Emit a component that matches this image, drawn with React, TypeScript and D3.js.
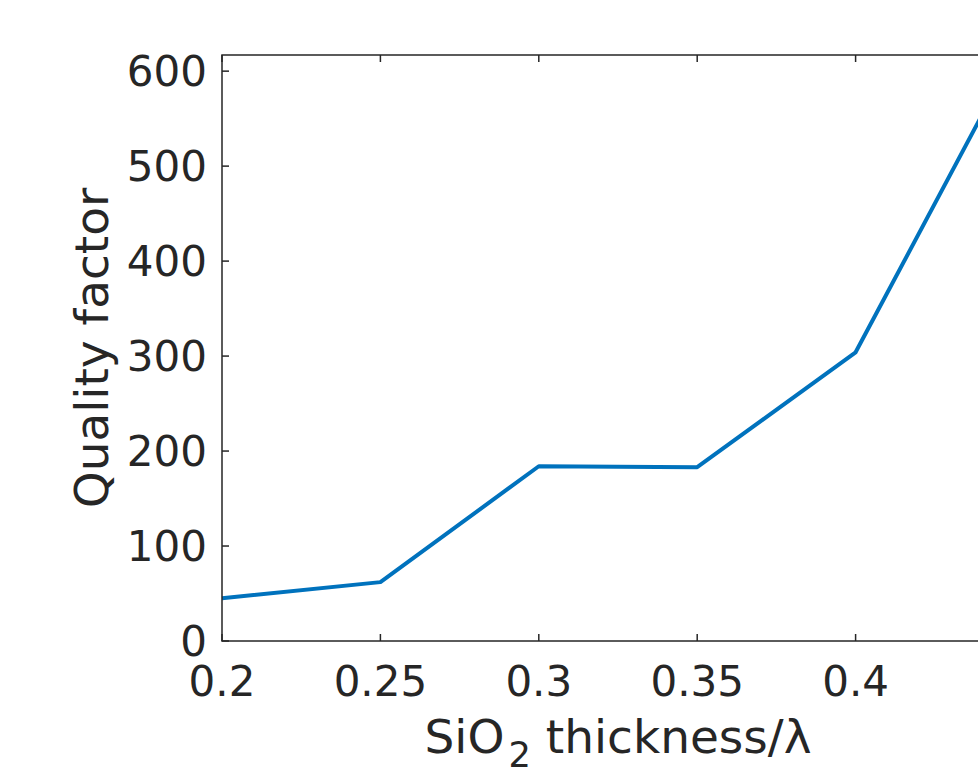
import React from "react";
import * as d3 from "d3";

const thickness = [0.2, 0.25, 0.3, 0.35, 0.4, 0.45];
const quality = [45, 62, 184, 183, 304, 617];
const xTicks = [0.2, 0.25, 0.3, 0.35, 0.4, 0.45];
const xTickLabels = ["0.2", "0.25", "0.3", "0.35", "0.4", ""];
const yTicks = [0, 100, 200, 300, 400, 500, 600];

export default function App() {
  const W = 978, H = 767;
  const left = 222, right = 1014, top = 55, bottom = 641;
  const x = d3.scaleLinear().domain([0.2, 0.45]).range([left, right]);
  const y = d3.scaleLinear().domain([0, 617]).range([bottom, top]);
  const line = d3.line<number>().x((_, i) => x(thickness[i])).y((d) => y(d));
  const ax = "#262626";
  const fs = 42;
  const lfs = 47;
  const font = "DejaVu Sans, sans-serif";
  return (
    <svg width={W} height={H} style={{ position: "absolute", left: 0, top: 0, background: "#fff" }}>
      <rect x={0} y={0} width={W} height={H} fill="#fff" />
      <path d={line(quality) || ""} fill="none" stroke="#0072BD" strokeWidth={4} strokeLinejoin="round" />
      <g stroke={ax} strokeWidth={1.5} fill="none">
        <rect x={left} y={top} width={right - left} height={bottom - top} />
        {xTicks.map((t) => (
          <g key={"x" + t}>
            <line x1={x(t)} x2={x(t)} y1={bottom} y2={bottom - 7} />
            <line x1={x(t)} x2={x(t)} y1={top} y2={top + 7} />
          </g>
        ))}
        {yTicks.map((t) => (
          <g key={"y" + t}>
            <line x1={left} x2={left + 7} y1={y(t)} y2={y(t)} />
            <line x1={right} x2={right - 7} y1={y(t)} y2={y(t)} />
          </g>
        ))}
      </g>
      <g fill={ax} fontFamily={font} fontSize={fs}>
        {xTicks.map((t, i) =>
          xTickLabels[i] ? (
            <text key={"xl" + t} x={x(t)} y={696} textAnchor="middle">
              {xTickLabels[i]}
            </text>
          ) : null
        )}
        {yTicks.map((t) => (
          <text key={"yl" + t} x={left - 15} y={y(t)} textAnchor="end" dominantBaseline="central">
            {String(t)}
          </text>
        ))}
        <text x={(left + right) / 2} y={753} textAnchor="middle" fontSize={lfs}>
          SiO<tspan fontSize={lfs * 0.75} dx={4} dy={14}>2</tspan>
          <tspan dy={-14}> thickness/λ</tspan>
        </text>
        <text transform={`translate(108, ${(top + bottom) / 2}) rotate(-90)`} textAnchor="middle" fontSize={lfs}>
          Quality factor
        </text>
      </g>
    </svg>
  );
}
